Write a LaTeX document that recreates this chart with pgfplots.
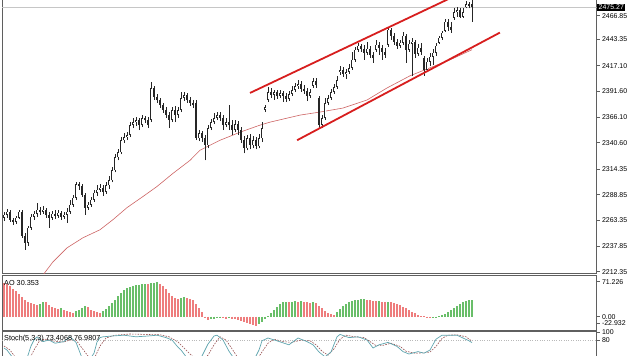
\documentclass[border=0pt]{standalone}
\usepackage{pgfplots}
\pgfplotsset{compat=1.18}
\usepackage{pgfplotstable}
\usepackage{fontspec}
\setmainfont{Liberation Sans}
\definecolor{chanred}{RGB}{215,30,30}
\definecolor{mared}{RGB}{205,100,100}
\definecolor{aogreen}{RGB}{105,190,105}
\definecolor{aored}{RGB}{238,125,125}
\definecolor{framegray}{RGB}{95,95,95}
\definecolor{stmain}{RGB}{95,165,175}
\definecolor{stsig}{RGB}{150,80,80}

\pgfplotstableread{
i O H L C
0 2266 2272 2263 2269
1 2269 2275 2266 2272
2 2272 2274 2262 2264
3 2264 2266 2259 2262
4 2262 2268 2260 2266
5 2266 2274 2265 2272
6 2272 2274 2246 2248
7 2248 2251 2234 2241
8 2241 2258 2238 2256
9 2256 2270 2254 2267
10 2267 2273 2264 2270
11 2270 2281 2267 2274
12 2274 2277 2269 2272
13 2272 2278 2270 2274
14 2274 2276 2266 2269
15 2269 2272 2256 2266
16 2266 2273 2264 2270
17 2270 2274 2265 2268
18 2268 2274 2266 2271
19 2271 2273 2264 2267
20 2267 2272 2265 2269
21 2269 2276 2261 2272
22 2272 2284 2270 2279
23 2279 2289 2277 2286
24 2286 2301 2284 2299
25 2299 2301 2294 2297
26 2297 2299 2287 2289
27 2289 2291 2269 2276
28 2276 2282 2274 2279
29 2279 2287 2277 2284
30 2284 2294 2282 2291
31 2291 2298 2288 2294
32 2294 2299 2292 2296
33 2296 2298 2288 2292
34 2292 2301 2290 2298
35 2298 2307 2295 2303
36 2303 2316 2301 2313
37 2313 2329 2311 2326
38 2326 2334 2323 2331
39 2331 2346 2329 2343
40 2343 2350 2340 2346
41 2346 2351 2343 2348
42 2348 2361 2346 2358
43 2358 2365 2355 2361
44 2361 2366 2357 2363
45 2363 2365 2353 2358
46 2358 2368 2356 2365
47 2365 2367 2360 2363
48 2363 2366 2355 2358
49 2363 2401 2361 2395
50 2395 2397 2383 2386
51 2386 2389 2380 2383
52 2383 2385 2375 2378
53 2378 2380 2370 2373
54 2373 2376 2365 2368
55 2368 2371 2355 2363
56 2363 2376 2361 2373
57 2373 2377 2361 2368
58 2368 2376 2365 2373
59 2373 2391 2371 2385
60 2385 2391 2382 2388
61 2388 2390 2380 2383
62 2383 2386 2377 2380
63 2380 2383 2375 2378
64 2380 2383 2343 2345
65 2345 2353 2342 2350
66 2350 2352 2341 2345
67 2345 2348 2323 2338
68 2338 2358 2335 2355
69 2355 2364 2353 2361
70 2361 2370 2359 2365
71 2365 2371 2363 2368
72 2368 2371 2362 2365
73 2365 2368 2353 2358
74 2358 2365 2356 2361
75 2361 2378 2353 2358
76 2358 2363 2348 2353
77 2353 2363 2351 2359
78 2359 2362 2348 2353
79 2353 2356 2340 2343
80 2343 2347 2330 2335
81 2335 2348 2333 2345
82 2345 2349 2334 2338
83 2338 2347 2335 2343
84 2343 2346 2334 2337
85 2337 2349 2335 2345
86 2345 2361 2341 2355
87 2373 2378 2371 2376
88 2383 2396 2381 2391
89 2391 2395 2385 2388
90 2388 2393 2383 2391
91 2391 2393 2384 2387
92 2387 2393 2385 2390
93 2390 2392 2381 2387
94 2387 2390 2381 2384
95 2384 2392 2382 2389
96 2389 2397 2387 2393
97 2393 2400 2391 2397
98 2397 2403 2394 2399
99 2399 2402 2391 2394
100 2394 2398 2389 2392
101 2392 2395 2382 2387
102 2387 2394 2385 2391
103 2397 2405 2395 2402
104 2402 2405 2395 2398
105 2385 2387 2355 2358
106 2358 2368 2355 2365
107 2365 2385 2363 2380
108 2380 2388 2378 2385
109 2385 2394 2383 2391
110 2391 2399 2389 2396
111 2396 2407 2394 2403
112 2411 2417 2408 2413
113 2413 2416 2406 2409
114 2409 2414 2404 2411
115 2411 2419 2409 2415
116 2415 2431 2413 2423
117 2423 2436 2421 2433
118 2433 2440 2431 2437
119 2437 2439 2431 2434
120 2434 2438 2423 2430
121 2430 2441 2428 2434
122 2434 2437 2425 2428
123 2428 2431 2420 2425
124 2433 2443 2431 2438
125 2438 2441 2428 2435
126 2435 2438 2423 2431
127 2431 2435 2425 2428
128 2438 2456 2436 2453
129 2453 2455 2443 2447
130 2447 2450 2438 2441
131 2441 2444 2434 2437
132 2437 2443 2435 2440
133 2440 2451 2438 2447
134 2447 2449 2420 2433
135 2433 2443 2431 2439
136 2439 2445 2407 2441
137 2441 2443 2425 2429
138 2429 2439 2427 2435
139 2435 2440 2428 2431
140 2425 2427 2407 2413
141 2413 2425 2411 2421
142 2421 2430 2417 2426
143 2426 2434 2418 2430
144 2430 2440 2427 2437
145 2440 2447 2439 2445
146 2445 2452 2443 2450
147 2452 2464 2451 2461
148 2461 2464 2452 2456
149 2456 2461 2450 2453
150 2465 2474 2463 2470
151 2470 2475 2466 2472
152 2472 2474 2465 2466
153 2466 2474 2465 2470
154 2475 2481 2474 2478
155 2478 2480 2474 2476
156 2478 2482 2461 2475.27
}\candles

\begin{document}
\begin{tikzpicture}[x=1bp,y=1bp]
\path[use as bounding box] (0,0) rectangle (630,355);
\pgfplotsset{panel/.style={scale only axis, anchor=north west,
  axis line style={framegray, line width=0.8bp},
  tick align=outside, ytick pos=right, yticklabel pos=right, xtick=\empty,
  major tick length=3bp, tick style={framegray, line width=0.6bp},
  yticklabel style={font=\fontsize{7}{8}\selectfont, anchor=west, xshift=-1bp, text=black},
  xmin=-0.667, xmax=197.5, clip=true,
  /pgf/number format/assume math mode=true}}

% ---------------- main price panel ----------------
\begin{axis}[panel, at={(2bp,358bp)}, width=594.5bp, height=276.3bp,
  ymin=2210.7, ymax=2485.4,
  ytick={2466.85,2443.35,2417.10,2391.60,2366.10,2340.60,2314.35,2288.85,2263.35,2237.85,2212.35},
  yticklabels={2466.85,2443.35,2417.10,2391.60,2366.10,2340.60,2314.35,2288.85,2263.35,2237.85,2212.35}]
\addplot[gray!45, line width=0.6bp, forget plot] coordinates {(-0.667,2475.27) (197.5,2475.27)};
\addplot[mared, line width=0.6bp, forget plot] coordinates {
(5.3,2194) (13,2209) (16.3,2222) (21,2236) (26.3,2246) (32,2254) (36.3,2264) (41,2276)
(46.3,2287) (51,2297) (56.3,2310) (62,2323) (65.3,2333) (72,2343) (78.7,2351) (85.3,2358)
(88.7,2361) (98.7,2368) (105.3,2371) (113,2375) (121,2383) (127.7,2395) (135.3,2407)
(140.3,2413) (148.7,2423) (156,2433)};
\foreach \r in {0,...,156}{
  \pgfplotstablegetelem{\r}{i}\of\candles \let\ci\pgfplotsretval
  \pgfplotstablegetelem{\r}{O}\of\candles \let\co\pgfplotsretval
  \pgfplotstablegetelem{\r}{H}\of\candles \let\ch\pgfplotsretval
  \pgfplotstablegetelem{\r}{L}\of\candles \let\cl\pgfplotsretval
  \pgfplotstablegetelem{\r}{C}\of\candles \let\cc\pgfplotsretval
  \edef\temp{\noexpand\addplot[black!85, line width=0.7bp, forget plot] coordinates {(\ci,\cl) (\ci,\ch)};
    \noexpand\addplot[black!85, line width=2.3bp, forget plot] coordinates {(\ci,\co) (\ci,\cc)};}%
  \temp
  \pgfmathparse{\cc>\co ? 1 : 0}%
  \ifdim\pgfmathresult pt>0.5pt
    \pgfmathsetmacro\wa{\co+0.7}\pgfmathsetmacro\wb{\cc-0.7}%
    \edef\temp{\noexpand\addplot[white, line width=0.9bp, forget plot] coordinates {(\ci,\wa) (\ci,\wb)};}%
    \temp
  \fi
}
\addplot[chanred, line width=1.8bp, forget plot] coordinates {(82,2390) (150,2486)};
\addplot[chanred, line width=1.8bp, forget plot] coordinates {(97.7,2343) (165.3,2450)};
\end{axis}

% ---------------- AO panel ----------------
\begin{axis}[panel, at={(2bp,80bp)}, width=594.5bp, height=55bp,
  ymin=-24.2, ymax=75.9, ytick={63.7,0,-12}, yticklabels={71.226,0.00,-22.932}]
\addplot[ycomb, aored, line width=1.1bp, forget plot] coordinates {
(0,61) (1,59) (2,55) (3,50) (4,46) (5,41) (6,36) (7,31) (8,27) (9,25) (10,23) (11,22)
(14,26) (15,22) (16,18) (17,16) (18,14) (20,12) (21,10) (22,8) (23,7) (28,17) (29,13)
(30,10) (31,8) (32,7) (48,59) (52,60) (53,55) (54,50) (55,44) (56,38) (57,34) (58,33)
(61,34) (62,33) (63,30) (64,24) (65,16) (66,8) (67,-3) (68,-6) (73,-3) (74,-4) (76,-4)
(77,-5) (78,-6) (79,-8) (80,-10) (81,-12) (82,-14) (83,-16) (84,-17) (95,26) (98,27)
(100,27) (101,26) (102,25) (104,25) (105,20) (106,15) (107,11) (108,7) (109,5) (110,4)
(121,31) (122,30) (123,29) (124,28) (126,27) (127,26) (129,26) (130,25) (131,24) (132,21)
(133,18) (134,15) (135,12) (136,9) (137,6) (138,4) (139,2) (140,0.5) (141,-1) (142,-1.5)};
\addplot[ycomb, aogreen, line width=1.1bp, forget plot] coordinates {
(12,24) (13,27) (19,15) (24,10) (25,13) (26,16) (27,19) (33,10) (34,14) (35,19) (36,25)
(37,31) (38,37) (39,43) (40,48) (41,52) (42,54) (43,56) (44,57) (45,58) (46,59) (47,60)
(49,61) (50,62) (51,63) (59,34) (60,35) (69,-5) (70,-4) (71,-3) (72,-2) (75,-3) (85,-14)
(86,-9) (87,-4) (88,2) (89,7) (90,12) (91,18) (92,23) (93,26) (94,27) (96,27) (97,28)
(99,28) (103,26) (111,8) (112,14) (113,20) (114,24) (115,26) (116,28) (117,30) (118,31)
(119,32) (120,33) (125,28.5) (128,27) (143,-1) (144,-0.5) (145,1) (146,3) (147,5) (148,8)
(149,12) (150,16) (151,20) (152,23) (153,26) (154,28) (155,30) (156,30.353)};
\end{axis}

% ---------------- Stochastic panel ----------------
\begin{axis}[panel, at={(2bp,24bp)}, width=594.5bp, height=42bp,
  ymin=-2.5, ymax=102.5, ytick={100,80}, yticklabels={100,80}]
\addplot[gray!55, line width=0.6bp, dash pattern=on 0.8bp off 1.6bp, forget plot] coordinates {(-0.667,80) (197.5,80)};
\addplot[gray!55, line width=0.6bp, dash pattern=on 0.8bp off 1.6bp, forget plot] coordinates {(-0.667,20) (197.5,20)};
\addplot[stsig, line width=0.6bp, dash pattern=on 1.6bp off 1.2bp, forget plot] coordinates {
(0,65) (2,55) (4,35) (6,22) (8,25) (10,55) (12,80) (14,82) (16,78) (18,76) (20,75) (22,80)
(24,80) (26,60) (28,40) (30,32) (32,65) (34,85) (37,92) (42,95) (47,94) (52,93) (55,88)
(58,75) (60,60) (62,45) (65,25) (68,42) (70,68) (72,88) (74,80) (76,58) (78,35) (81,20)
(84,28) (86,50) (88,72) (90,82) (93,76) (96,74) (99,80) (102,78) (104,68) (106,52) (108,42)
(110,58) (112,82) (114,92) (117,88) (120,86) (122,76) (124,66) (126,66) (129,72) (132,64)
(134,52) (137,47) (140,48) (142,50) (144,64) (146,84) (148,92) (151,93) (154,88) (156,76.9807)};
\addplot[stmain, line width=0.7bp, forget plot] coordinates {
(0,60) (1,55) (3,35) (5,20) (7,15) (8,42) (9,65) (10,80) (11,88) (13,76) (15,80) (17,72)
(20,76) (22,88) (24,74) (25,55) (26,35) (28,25) (30,47) (31,75) (32,86) (33,88) (36,90)
(40,92) (44,88) (48,90) (51,92) (54,86) (56,80) (58,62) (59,55) (61,35) (64,20) (66,40)
(68,70) (70,90) (71,92) (73,80) (75,52) (77,30) (80,15) (83,25) (85,55) (86,78) (88,85)
(91,78) (95,68) (98,85) (101,76) (103,68) (105,50) (107,38) (109,50) (111,88) (112,94)
(115,86) (118,88) (121,80) (123,60) (125,68) (128,74) (131,64) (133,51) (135,45) (138,51)
(140,47) (142,55) (144,82) (146,92) (149,92) (151,92) (153,85) (155,78) (156,73.4068)};
\end{axis}

% labels
\node[anchor=west, inner sep=0pt, font=\fontsize{7.3}{8}\selectfont] at (4,72) {AO 30.353};
\node[anchor=west, inner sep=0pt, font=\fontsize{7.3}{8}\selectfont] at (4,16) {Stoch(5,3,3) 73.4068 76.9807};
\node[anchor=west, fill=black, text=white, inner xsep=1.5bp, inner ysep=1.2bp,
      font=\fontsize{7}{8}\selectfont] at (597,347.8) {2475.27};
\end{tikzpicture}
\end{document}
